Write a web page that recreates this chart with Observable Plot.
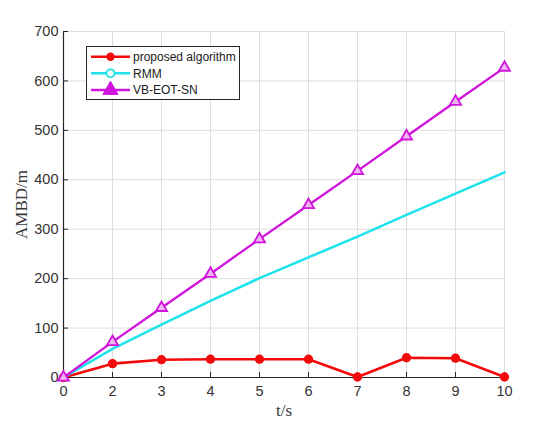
<!DOCTYPE html>
<html>
<head>
<meta charset="utf-8">
<script src="https://cdn.jsdelivr.net/npm/d3@7"></script>
<script src="https://cdn.jsdelivr.net/npm/@observablehq/plot@0.6"></script>
<style>
  body { margin: 0; background: #fff; }
  #wrap { position: relative; width: 550px; height: 425px; }
  #legend { position: absolute; left: 86px; top: 46px; }
</style>
</head>
<body>
<div id="wrap"></div>
<script>
// ---- data ----
const times = ["0", "2", "3", "4", "5", "6", "7", "8", "9", "10"];
const proposed = [0, 28, 36, 37, 37, 37, 1, 40, 39, 1];
const rmm = [0, 58, 107, 155, 201, 243, 285, 329, 372, 415];
const vbeot = [0, 72, 141, 210, 280, 349, 418, 488, 558, 627];
const yTicks = [0, 100, 200, 300, 400, 500, 600, 700];
const seriesNames = ["proposed algorithm", "RMM", "VB-EOT-SN"];
const colors = ["#f20a0a", "#1fe3ea", "#d014dc"];
const xLabel = "t/s";
const yLabel = "AMBD/m";

const rows = (vals, s) => times.map((t, i) => ({ t, v: vals[i], s }));
const dP = rows(proposed, seriesNames[0]);
const dR = rows(rmm, seriesNames[1]);
const dV = rows(vbeot, seriesNames[2]);

const axisColor = "#262626";
const tickTextColor = "#333333";
const gridColor = "#dedede";

const chart = Plot.plot({
  width: 550,
  height: 425,
  marginLeft: 63,
  marginRight: 46,
  marginTop: 31,
  marginBottom: 48,
  style: {
    fontFamily: "'Liberation Sans', Arial, Helvetica, sans-serif",
    fontSize: "14px",
    color: axisColor,
    background: "transparent"
  },
  x: { type: "point", domain: times, padding: 0, label: null },
  y: { domain: [0, 700], label: null },
  marks: [
    Plot.gridX(times, { stroke: gridColor, strokeOpacity: 1 }),
    Plot.gridY(yTicks, { stroke: gridColor, strokeOpacity: 1 }),
    Plot.axisX(times, { tickSize: -5, tickPadding: 13, stroke: axisColor, fill: tickTextColor, fontSize: 14.5, label: null }),
    Plot.axisY(yTicks, { tickSize: -5, tickPadding: 10, stroke: axisColor, fill: tickTextColor, fontSize: 14.5, label: null }),
    Plot.ruleY([0], { stroke: axisColor, strokeWidth: 1.2 }),
    Plot.ruleX([times[0]], { stroke: axisColor, strokeWidth: 1.2 }),
    Plot.line(dP, { x: "t", y: "v", stroke: colors[0], strokeWidth: 2.6 }),
    Plot.dot(dP, { x: "t", y: "v", r: 3.9, fill: colors[0], stroke: colors[0] }),
    Plot.line(dR, { x: "t", y: "v", stroke: colors[1], strokeWidth: 2.6 }),
    Plot.line(dV, { x: "t", y: "v", stroke: colors[2], strokeWidth: 2.3 }),
    Plot.dot(dV, { x: "t", y: "v", symbol: "triangle", r: 4.1, stroke: colors[2], strokeWidth: 1.8, fill: "#f0b4f2" }),
    Plot.text([yLabel], { text: d => d, frameAnchor: "left", dx: -42, rotate: -90,
      textAnchor: "middle", lineAnchor: "middle",
      fontFamily: "'Liberation Serif', 'Times New Roman', serif", fontSize: 17, fill: "#3a3a3a" }),
    Plot.text([xLabel], { text: d => d, frameAnchor: "bottom", dy: 33,
      textAnchor: "middle", lineAnchor: "middle",
      fontFamily: "'Liberation Serif', 'Times New Roman', serif", fontSize: 17, fill: "#3a3a3a" })
  ]
});

const wrap = document.getElementById("wrap");
wrap.appendChild(chart);

// ---- legend (inside plot area, upper left) ----
const lw = 154, lh = 54;
const leg = d3.create("svg")
  .attr("id", "legend")
  .attr("width", lw)
  .attr("height", lh)
  .style("font-family", "'Liberation Sans', Arial, Helvetica, sans-serif")
  .style("font-size", "12px");
leg.append("rect").attr("x", 0.5).attr("y", 0.5).attr("width", lw - 1).attr("height", lh - 1)
  .attr("fill", "#fff").attr("stroke", axisColor).attr("stroke-width", 1);
const rowY = [10.7, 27.3, 44];
seriesNames.forEach((name, i) => {
  const g = leg.append("g").attr("transform", `translate(0,${rowY[i]})`);
  g.append("line").attr("x1", 5).attr("x2", 44).attr("y1", 0).attr("y2", 0)
    .attr("stroke", colors[i]).attr("stroke-width", 2.5);
  if (i === 0) {
    g.append("circle").attr("cx", 24.5).attr("cy", 0).attr("r", 4.2).attr("fill", colors[0]);
  } else if (i === 1) {
    g.append("circle").attr("cx", 24.5).attr("cy", 0).attr("r", 4).attr("fill", "#fff")
      .attr("stroke", colors[1]).attr("stroke-width", 1.8);
  } else {
    g.append("path").attr("d", d3.symbol(d3.symbolTriangle, 100)())
      .attr("transform", "translate(24.5,0)").attr("fill", colors[2]).attr("stroke", colors[2]);
  }
  g.append("text").attr("x", 47).attr("y", 0).attr("dy", "0.35em")
    .attr("fill", "#1a1a1a").text(name);
});
wrap.appendChild(leg.node());
</script>
</body>
</html>
